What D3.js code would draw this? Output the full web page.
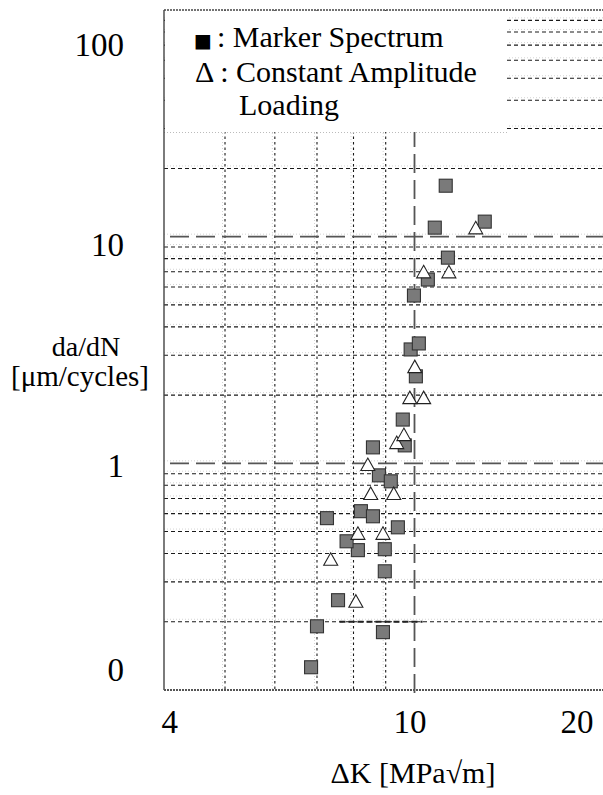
<!DOCTYPE html>
<html>
<head>
<meta charset="utf-8">
<script src="https://cdn.jsdelivr.net/npm/d3@7"></script>
<style>
  html, body { margin: 0; padding: 0; background: #fff; }
  svg { display: block; }
</style>
</head>
<body>
<svg id="chart" width="603" height="795"></svg>
<script>
// ---- axis ticks ----
const xTickValues = [4, 10, 20];
const xTickLabels = ["4", "10", "20"];
const yTickValues = [0.1, 1, 10, 100];
const yTickLabels = ["0", "1", "10", "100"];

// ---- grid lines ----
const xMinorGrid = [5, 6, 7, 8, 9];
const xMajorGrid = [10];
const yMinorGrid = [0.2, 0.3, 0.4, 0.5, 0.6, 0.7, 0.8, 0.9,
                    2, 3, 4, 5, 6, 7, 8, 9,
                    20, 30, 40, 50, 60, 70, 80, 90];
const yMajorGrid = [1, 10];

// ---- marker spectrum (squares) ----
const markerDeltaK = [6.85, 7.00, 7.56, 8.91, 8.97, 8.97, 8.13, 7.80, 7.26, 8.22, 8.59, 9.41, 8.78,
                      9.17, 8.59, 9.65, 9.58, 10.05, 9.86, 10.16, 9.98, 10.50, 11.30, 10.77, 12.93, 11.21];
const markerRate   = [0.126, 0.191, 0.249, 0.180, 0.334, 0.418, 0.414, 0.453, 0.573, 0.615, 0.584, 0.522, 0.885,
                      0.833, 1.176, 1.20, 1.56, 2.42, 3.18, 3.38, 5.50, 6.47, 8.08, 10.96, 11.65, 16.78];

// ---- constant amplitude loading (triangles) ----
const constDeltaK = [8.07, 7.36, 8.13, 8.91, 8.52, 9.27, 8.43, 9.37, 9.62, 9.83, 10.34, 10.01, 10.34, 11.34, 12.51];
const constRate   = [0.247, 0.378, 0.492, 0.492, 0.738, 0.738, 0.99, 1.237, 1.342, 1.953, 1.953, 2.676, 7.01, 7.01, 10.96];

const serif = "'Liberation Serif', 'Times New Roman', serif";

const svg = d3.select("#chart");
const plot = { left: 164, right: 604, top: 10, bottom: 690 };

const x = d3.scaleLog().domain([4, 20]).range([plot.left, plot.right]);
const y = d3.scaleLog().domain([0.1, 100]).range([plot.bottom, plot.top]);

svg.append("rect").attr("width", 603).attr("height", 795).attr("fill", "#fff");

const grid = svg.append("g");

// faint shadow lines beside each grid line
grid.selectAll("line.hfaint").data(yMinorGrid.concat(yMajorGrid)).join("line")
  .attr("x1", plot.left).attr("x2", plot.right)
  .attr("y1", d => y(d) - 2.5).attr("y2", d => y(d) - 2.5)
  .attr("stroke", "#d4d4d4").attr("stroke-width", 1).attr("stroke-dasharray", "1,2");
grid.selectAll("line.vfaint").data(xMinorGrid).join("line")
  .attr("x1", d => x(d) - 2.5).attr("x2", d => x(d) - 2.5)
  .attr("y1", plot.top).attr("y2", plot.bottom)
  .attr("stroke", "#d4d4d4").attr("stroke-width", 1).attr("stroke-dasharray", "1,2");

// minor horizontal grid (short dashes)
grid.selectAll("line.hminor").data(yMinorGrid).join("line")
  .attr("x1", plot.left).attr("x2", plot.right)
  .attr("y1", d => y(d)).attr("y2", d => y(d))
  .attr("stroke", "#1a1a1a").attr("stroke-width", 1.1).attr("stroke-dasharray", "4,3");

// minor vertical grid (dots)
grid.selectAll("line.vminor").data(xMinorGrid).join("line")
  .attr("x1", d => x(d)).attr("x2", d => x(d))
  .attr("y1", plot.top).attr("y2", plot.bottom)
  .attr("stroke", "#1a1a1a").attr("stroke-width", 1.1).attr("stroke-dasharray", "2.5,3");

// heavier dashed segment at 0.2
grid.append("line")
  .attr("x1", x(7.6)).attr("x2", x(10.3))
  .attr("y1", y(0.2)).attr("y2", y(0.2))
  .attr("stroke", "#222").attr("stroke-width", 2).attr("stroke-dasharray", "6,3");

// major grid (long dashes)
grid.selectAll("line.hmajor").data(yMajorGrid).join("line")
  .attr("x1", plot.left + 6).attr("x2", plot.right)
  .attr("y1", d => y(d)).attr("y2", d => y(d))
  .attr("stroke", "#555").attr("stroke-width", 1.8).attr("stroke-dasharray", "19,7");
grid.selectAll("line.vmajor").data(xMajorGrid).join("line")
  .attr("x1", d => x(d)).attr("x2", d => x(d))
  .attr("y1", 128).attr("y2", plot.bottom + 7)
  .attr("stroke", "#555").attr("stroke-width", 1.8).attr("stroke-dasharray", "19,7");

// legend box
const legend = svg.append("g");
legend.append("rect")
  .attr("x", plot.left + 1).attr("y", plot.top + 1)
  .attr("width", 507 - plot.left - 1).attr("height", 132 - plot.top - 1)
  .attr("fill", "#fff");
legend.append("line")
  .attr("x1", plot.left).attr("x2", 507).attr("y1", 132.5).attr("y2", 132.5)
  .attr("stroke", "#bbb").attr("stroke-width", 1).attr("stroke-dasharray", "1,2");

const l1 = legend.append("text").attr("y", 47).attr("font-family", serif).attr("font-size", 30).attr("fill", "#000");
l1.append("tspan").attr("x", 194).attr("font-size", 19).attr("font-family", "'DejaVu Sans', sans-serif").text("■");
l1.append("tspan").attr("x", 217).text(": Marker Spectrum");
legend.append("text").attr("x", 195).attr("y", 82)
  .attr("font-family", serif).attr("font-size", 30).attr("fill", "#000")
  .text("Δ : Constant Amplitude");
legend.append("text").attr("x", 239).attr("y", 115)
  .attr("font-family", serif).attr("font-size", 30).attr("fill", "#000")
  .text("Loading");

// data marks
const marks = svg.append("g");
const sq = 13;
marks.selectAll("rect.ms").data(d3.range(markerDeltaK.length)).join("rect")
  .attr("x", i => x(markerDeltaK[i]) - sq / 2)
  .attr("y", i => y(markerRate[i]) - sq / 2)
  .attr("width", sq).attr("height", sq)
  .attr("fill", "#7a7a7a").attr("stroke", "#333").attr("stroke-width", 1.1);

const tri = "M0,-6.3L7,6.2L-7,6.2Z";
marks.selectAll("path.ca").data(d3.range(constDeltaK.length)).join("path")
  .attr("d", tri)
  .attr("transform", i => `translate(${x(constDeltaK[i])},${y(constRate[i])})`)
  .attr("fill", "#fff").attr("stroke", "#222").attr("stroke-width", 1.1);

// frame
svg.append("line").attr("x1", plot.left).attr("x2", plot.left)
  .attr("y1", plot.top).attr("y2", plot.bottom)
  .attr("stroke", "#444").attr("stroke-width", 1.4);
svg.append("line").attr("x1", plot.left).attr("x2", 603)
  .attr("y1", plot.top).attr("y2", plot.top)
  .attr("stroke", "#444").attr("stroke-width", 1.4).attr("stroke-dasharray", "2,1");
svg.append("line").attr("x1", plot.left).attr("x2", 603)
  .attr("y1", plot.bottom).attr("y2", plot.bottom)
  .attr("stroke", "#555").attr("stroke-width", 2).attr("stroke-dasharray", "2,1");

// y tick labels
const yNudge = [-21, 2, 8, 34];
const yAxis = svg.append("g").attr("transform", "translate(124,0)")
  .call(d3.axisLeft(y).tickValues(yTickValues).tickFormat((d, i) => yTickLabels[i]).tickSize(0).tickPadding(0));
yAxis.select(".domain").remove();
yAxis.selectAll(".tick text")
  .attr("font-family", serif).attr("font-size", 33).attr("fill", "#000")
  .attr("dy", (d, i) => (yNudge[i] + 11) + "px");

// x tick labels
const xDx = [-3, -5, -11];
const xAnchor = ["start", "middle", "end"];
const xAxis = svg.append("g").attr("transform", "translate(0,733)")
  .call(d3.axisBottom(x).tickValues(xTickValues).tickFormat((d, i) => xTickLabels[i]).tickSize(0).tickPadding(0));
xAxis.select(".domain").remove();
xAxis.selectAll(".tick text")
  .attr("font-family", serif).attr("font-size", 33).attr("fill", "#000")
  .attr("dy", 0).attr("text-anchor", (d, i) => xAnchor[i]).attr("dx", (d, i) => xDx[i]);

// axis titles
svg.append("text").attr("x", 86).attr("y", 356).attr("text-anchor", "middle")
  .attr("font-family", serif).attr("font-size", 28).text("da/dN");
svg.append("text").attr("x", 80).attr("y", 386).attr("text-anchor", "middle")
  .attr("font-family", serif).attr("font-size", 29).text("[μm/cycles]");
svg.append("text").attr("x", 413).attr("y", 783).attr("text-anchor", "middle")
  .attr("font-family", serif).attr("font-size", 30).text("ΔK [MPa√m]");
</script>
</body>
</html>
